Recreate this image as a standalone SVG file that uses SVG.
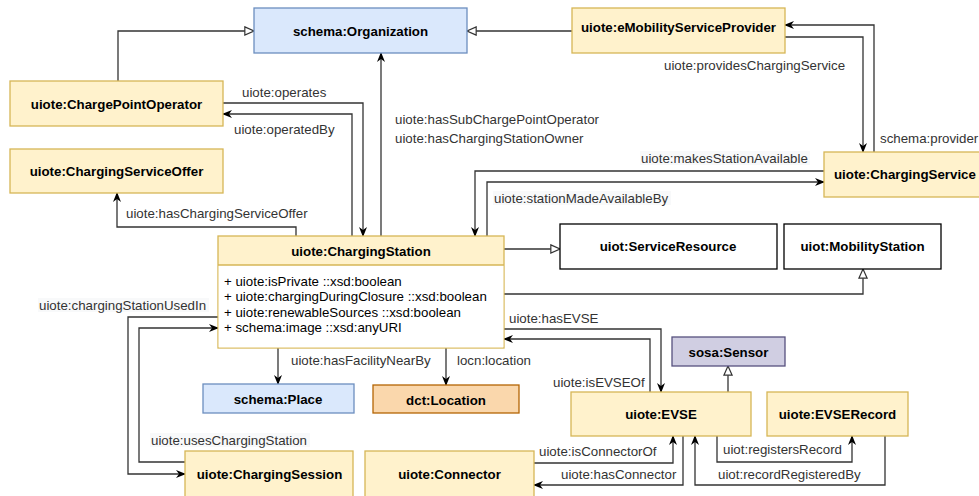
<svg xmlns="http://www.w3.org/2000/svg" width="979" height="496" viewBox="0 0 979 496">
<style>
text{font-family:"Liberation Sans",Arial,Helvetica,sans-serif;font-size:13.3px;dominant-baseline:central}
.n{font-weight:bold;fill:#000;text-anchor:middle}
.lb{fill:#333}
.at{fill:#000}
.y{fill:#fff2cc;stroke:#d6b656;stroke-width:1.3}
.b{fill:#dae8fc;stroke:#6c8ebf;stroke-width:1.3}
.o{fill:#fad7ac;stroke:#b46504;stroke-width:1.3}
.p{fill:#d0cee2;stroke:#56517e;stroke-width:1.3}
.w{fill:#fff;stroke:#000;stroke-width:1.3}
.c path{fill:none;stroke:#333;stroke-width:1.3}
.c .a{marker-end:url(#arr)}
.c .i{marker-end:url(#tri)}
.bg{fill:#f8f9fa}
</style>
<defs>
<marker id="arr" viewBox="0 0 10 10" refX="9" refY="5" markerWidth="10" markerHeight="10" markerUnits="userSpaceOnUse" orient="auto">
<path d="M0,1 L10,5 L0,9 L3,5 Z" fill="#000" stroke="none"/>
</marker>
<marker id="tri" viewBox="0 0 12 12" refX="11" refY="6" markerWidth="11" markerHeight="11" markerUnits="userSpaceOnUse" orient="auto">
<path d="M1,1.5 L11,6 L1,10.5 Z" fill="#fff" stroke="#333" stroke-width="1.3"/>
</marker>
</defs>
<rect width="979" height="496" fill="#fff"/>

<g id="connectors" class="c">
<path class="i" d="M118,81 V31 H254"/>
<path class="i" d="M572,31 H467"/>
<path class="a" d="M223,103 H363 V236"/>
<path class="a" d="M352,236 V114 H223"/>
<path class="a" d="M381,236 V53"/>
<path class="a" d="M296,236 V227 H117 V193"/>
<path class="a" d="M785,37 H863 V152"/>
<path class="a" d="M874,152 V25 H785"/>
<path class="a" d="M824,171 H475 V236"/>
<path class="a" d="M487,236 V182 H824"/>
<path class="i" d="M504,249 H560"/>
<path class="i" d="M504,294 H863 V269"/>
<path class="a" d="M504,329 H661 V392"/>
<path class="a" d="M650,392 V339 H504"/>
<path class="i" d="M728,392 V366"/>
<path class="a" d="M534,463 H673 V436"/>
<path class="a" d="M683,436 V485 H534"/>
<path class="a" d="M717,436 V462 H852 V436"/>
<path class="a" d="M885,436 V485 H695 V436"/>
<path class="a" d="M218,317 H128 V474 H185"/>
<path class="a" d="M185,462 H139 V328 H218"/>
<path class="a" d="M278,348 V384"/>
<path class="a" d="M446,348 V385"/>
</g>

<g id="labels">
<text class="lb" x="242" y="92">uiote:operates</text>
<text class="lb" x="234" y="129">uiote:operatedBy</text>
<text class="lb" x="395" y="119">uiote:hasSubChargePointOperator</text>
<text class="lb" x="395" y="138">uiote:hasChargingStationOwner</text>
<text class="lb" x="126" y="213">uiote:hasChargingServiceOffer</text>
<text class="lb" x="664" y="65">uiote:providesChargingService</text>
<text class="lb" x="880" y="138">schema:provider</text>
<rect class="bg" x="640" y="151" width="170" height="14"/>
<text class="lb" x="641" y="158">uiote:makesStationAvailable</text>
<rect class="bg" x="493" y="191" width="178" height="14"/>
<text class="lb" x="494" y="198">uiote:stationMadeAvailableBy</text>
<rect class="bg" x="38" y="298" width="171" height="14"/>
<text class="lb" x="39" y="305">uiote:chargingStationUsedIn</text>
<rect class="bg" x="150" y="433" width="160" height="14"/>
<text class="lb" x="151" y="440">uiote:usesChargingStation</text>
<text class="lb" x="291" y="360">uiote:hasFacilityNearBy</text>
<text class="lb" x="457" y="360">locn:location</text>
<text class="lb" x="509" y="318">uiote:hasEVSE</text>
<text class="lb" x="553" y="382">uiote:isEVSEOf</text>
<text class="lb" x="539" y="451">uiote:isConnectorOf</text>
<text class="lb" x="561" y="474">uiote:hasConnector</text>
<text class="lb" x="723" y="449">uiot:registersRecord</text>
<text class="lb" x="718" y="474">uiot:recordRegisteredBy</text>
</g>

<g id="organization"><rect class="b" x="254" y="8" width="213" height="45"/><text class="n" x="360.5" y="31">schema:Organization</text></g>
<g id="chargePointOperator"><rect class="y" x="10" y="81" width="213" height="45"/><text class="n" x="116.5" y="104">uiote:ChargePointOperator</text></g>
<g id="chargingServiceOffer"><rect class="y" x="10" y="149" width="213" height="44"/><text class="n" x="116.5" y="171">uiote:ChargingServiceOffer</text></g>
<g id="eMobilityServiceProvider"><rect class="y" x="572" y="8" width="213" height="45"/><text class="n" x="678.5" y="27">uiote:eMobilityServiceProvider</text></g>
<g id="chargingService"><rect class="y" x="824" y="152" width="213" height="45"/><text class="n" x="834" y="174" style="text-anchor:start">uiote:ChargingService</text></g>
<g id="chargingStation">
<rect class="y" x="218" y="236" width="286" height="112"/>
<rect x="218.6" y="265" width="284.8" height="82.4" fill="#fff"/>
<line x1="218" y1="265" x2="504" y2="265" stroke="#d6b656" stroke-width="1.3"/>
<text class="n" x="361" y="251">uiote:ChargingStation</text>
<text class="at" x="224" y="281">+ uiote:isPrivate ::xsd:boolean</text>
<text class="at" x="224" y="296.5">+ uiote:chargingDuringClosure ::xsd:boolean</text>
<text class="at" x="224" y="312">+ uiote:renewableSources ::xsd:boolean</text>
<text class="at" x="224" y="327.5">+ schema:image ::xsd:anyURI</text>
</g>
<g id="serviceResource"><rect class="w" x="560" y="224" width="217" height="45"/><text class="n" x="668" y="246">uiot:ServiceResource</text></g>
<g id="mobilityStation"><rect class="w" x="784" y="224" width="157" height="45"/><text class="n" x="862.5" y="246">uiot:MobilityStation</text></g>
<g id="place"><rect class="b" x="203" y="384" width="151" height="29"/><text class="n" x="278" y="399.5">schema:Place</text></g>
<g id="location"><rect class="o" x="373" y="385" width="146" height="28"/><text class="n" x="446" y="400">dct:Location</text></g>
<g id="sensor"><rect class="p" x="672" y="337" width="113" height="29"/><text class="n" x="728.5" y="352">sosa:Sensor</text></g>
<g id="evse"><rect class="y" x="571" y="392" width="180" height="44"/><text class="n" x="661" y="414">uiote:EVSE</text></g>
<g id="evseRecord"><rect class="y" x="767" y="392" width="141" height="44"/><text class="n" x="837.5" y="414">uiote:EVSERecord</text></g>
<g id="chargingSession"><rect class="y" x="185" y="451" width="168" height="46"/><text class="n" x="269.5" y="474">uiote:ChargingSession</text></g>
<g id="connector"><rect class="y" x="365" y="451" width="169" height="46"/><text class="n" x="449.5" y="474">uiote:Connector</text></g>
</svg>
